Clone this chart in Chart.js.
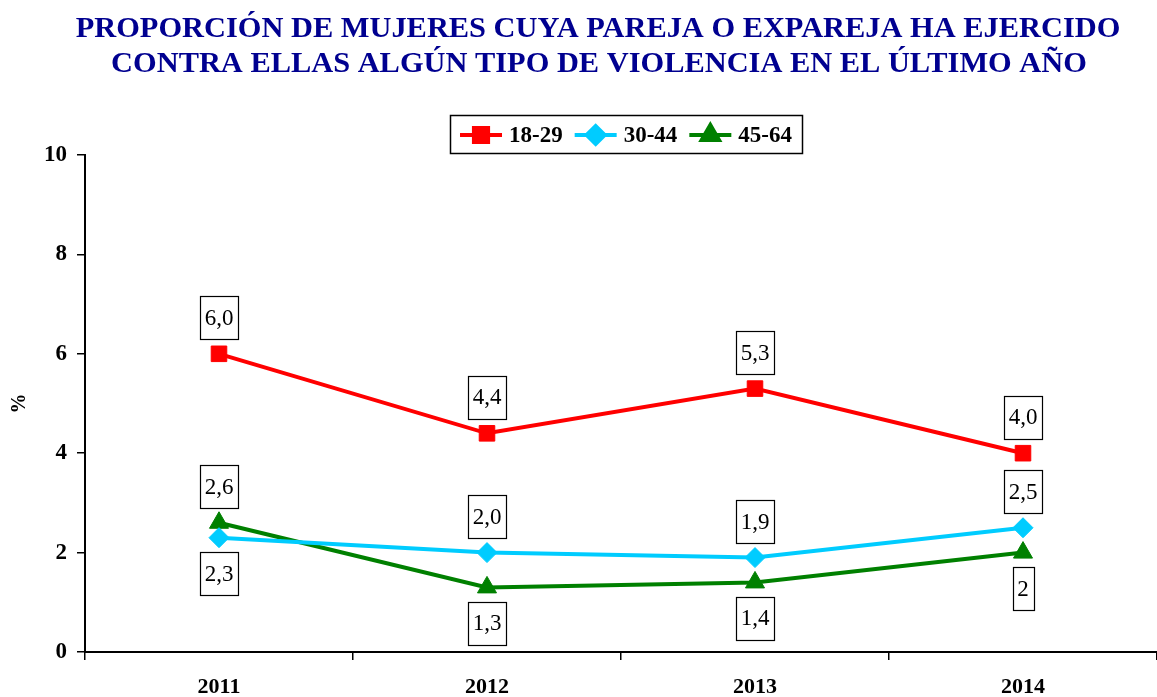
<!DOCTYPE html>
<html>
<head>
<meta charset="utf-8">
<script src="https://cdn.jsdelivr.net/npm/chart.js@4.4.0/dist/chart.umd.min.js"></script>
<style>
  body { margin: 0; background: #fff; }
  #wrap { width: 1157px; height: 697px; position: relative; }
</style>
</head>
<body>
<div id="wrap"><canvas id="chart"></canvas></div>
<script>
// Chart data
const years = ["2011", "2012", "2013", "2014"];
const group1829 = [6.0, 4.4, 5.3, 4.0];
const group3044 = [2.3, 2.0, 1.9, 2.5];
const group4564 = [2.6, 1.3, 1.4, 2.0];
const valueLabels4564 = ["2,6", "1,3", "1,4", "2"];
const yTicks = [0, 2, 4, 6, 8, 10];
const titleLines = [
  "PROPORCIÓN DE MUJERES CUYA PAREJA O EXPAREJA HA EJERCIDO",
  "CONTRA ELLAS ALGÚN TIPO DE VIOLENCIA EN EL ÚLTIMO AÑO",
];

// label side for each point: -1 above, 1 below
const labelSide = [
  [-1, -1, -1, -1],
  [1, -1, -1, -1],
  [-1, 1, 1, 1],
];

const serif = "'Liberation Serif', 'Times New Roman', serif";

function fmt(v) {
  return v.toFixed(1).replace(".", ",");
}

// Two-line title, a bit right of centre like the original
const topTitle = {
  id: "topTitle",
  afterDraw(chart) {
    const ctx = chart.ctx;
    ctx.save();
    ctx.font = "bold 30.4px " + serif;
    ctx.fillStyle = "#000090";
    ctx.textAlign = "center";
    ctx.textBaseline = "alphabetic";
    ctx.fillText(titleLines[0], 598, 37);
    ctx.fillText(titleLines[1], 599, 72);
    ctx.restore();
  },
};

// Boxed value labels next to each point
const boxLabels = {
  id: "boxLabels",
  afterDatasetsDraw(chart) {
    const ctx = chart.ctx;
    ctx.save();
    ctx.font = "23px " + serif;
    ctx.textAlign = "center";
    ctx.textBaseline = "middle";
    chart.data.datasets.forEach((ds, di) => {
      const meta = chart.getDatasetMeta(di);
      meta.data.forEach((pt, i) => {
        const text = ds.valueLabels ? ds.valueLabels[i] : fmt(ds.data[i]);
        const w = Math.round(ctx.measureText(text).width + 9);
        const h = 43;
        const cy = pt.y + labelSide[di][i] * 36;
        const bx = Math.round(pt.x - w / 2) + 0.5;
        const by = Math.round(cy - h / 2) + 0.5;
        ctx.fillStyle = "#fff";
        ctx.fillRect(bx, by, w, h);
        ctx.strokeStyle = "#000";
        ctx.lineWidth = 1.2;
        ctx.strokeRect(bx, by, w, h);
        ctx.fillStyle = "#000";
        ctx.fillText(text, pt.x, cy + 1);
      });
    });
    ctx.restore();
  },
};

// Legend with line + marker, boxed, above the plot
const boxLegend = {
  id: "boxLegend",
  afterDraw(chart) {
    const ctx = chart.ctx;
    ctx.save();
    ctx.font = "bold 23px " + serif;
    ctx.textBaseline = "middle";
    const lineLen = 42, gap = 7, itemGap = 12;
    const items = chart.data.datasets.map((ds) => ({
      ds,
      tw: ctx.measureText(ds.label).width,
    }));
    let total = 0;
    items.forEach((it, i) => {
      total += lineLen + gap + it.tw + (i < items.length - 1 ? itemGap : 0);
    });
    const padX = 10;
    const boxW = total + padX * 2;
    const cx = 626;
    const top = 115, h = 38;
    const left = cx - boxW / 2;
    ctx.fillStyle = "#fff";
    ctx.fillRect(left, top, boxW, h);
    ctx.strokeStyle = "#000";
    ctx.lineWidth = 1.5;
    ctx.strokeRect(Math.round(left) + 0.5, top + 0.5, Math.round(boxW), h);
    const y = top + h / 2 + 1;
    let x = left + padX;
    items.forEach((it) => {
      const ds = it.ds;
      ctx.strokeStyle = ds.borderColor;
      ctx.lineWidth = 4;
      ctx.beginPath();
      ctx.moveTo(x, y);
      ctx.lineTo(x + lineLen, y);
      ctx.stroke();
      ctx.fillStyle = ds.pointBackgroundColor;
      ctx.strokeStyle = ds.pointBackgroundColor;
      Chart.helpers.drawPoint(ctx, {
        pointStyle: ds.pointStyle,
        radius: ds.legendRadius,
        borderWidth: 1,
      }, x + lineLen / 2, y);
      ctx.fillStyle = "#000";
      ctx.textAlign = "left";
      ctx.fillText(ds.label, x + lineLen + gap, y + 1);
      x += lineLen + gap + it.tw + itemGap;
    });
    ctx.restore();
  },
};

function series(label, data, color, style, radius, legendRadius, extra) {
  return Object.assign({
    label,
    data,
    borderColor: color,
    backgroundColor: color,
    pointBackgroundColor: color,
    pointBorderColor: color,
    borderWidth: 4,
    pointStyle: style,
    pointRadius: radius,
    legendRadius,
    pointBorderWidth: 1,
    tension: 0,
    clip: false,
  }, extra || {});
}

const ctx = document.getElementById("chart").getContext("2d");
new Chart(ctx, {
  type: "line",
  data: {
    labels: years,
    datasets: [
      series("18-29", group1829, "#ff0000", "rect", 11, 10),
      series("30-44", group3044, "#00ccff", "rectRot", 10, 9),
      series("45-64", group4564, "#008000", "triangle", 11, 10, { valueLabels: valueLabels4564 }),
    ],
  },
  options: {
    responsive: true,
    maintainAspectRatio: false,
    animation: false,
    layout: {
      autoPadding: false,
      padding: { left: 0, right: 0, top: 155, bottom: 0 },
    },
    plugins: {
      legend: { display: false },
      tooltip: { enabled: false },
      title: { display: false },
    },
    scales: {
      x: {
        type: "category",
        offset: true,
        grid: {
          offset: true,
          drawOnChartArea: false,
          drawTicks: true,
          tickLength: 8,
          color: "#000",
          lineWidth: 1.5,
        },
        border: { display: true, color: "#000", width: 2 },
        ticks: {
          color: "#000",
          font: { family: serif, size: 22, weight: "bold" },
          padding: 14,
          maxRotation: 0,
        },
        afterFit(scale) {
          scale.height = 45;
          scale.paddingLeft = 0;
          scale.paddingRight = 0;
        },
      },
      y: {
        min: 0,
        max: 10,
        afterBuildTicks(scale) {
          scale.ticks = yTicks.map((v) => ({ value: v }));
        },
        grid: {
          drawOnChartArea: false,
          drawTicks: true,
          tickLength: 8,
          color: "#000",
          lineWidth: 1.5,
        },
        border: { display: true, color: "#000", width: 2 },
        ticks: {
          color: "#000",
          font: { family: serif, size: 23, weight: "bold" },
          padding: 10,
        },
        title: {
          display: true,
          text: "%",
          color: "#000",
          font: { family: serif, size: 20, weight: "bold" },
          padding: { top: 8, bottom: 0 },
        },
        afterFit(scale) {
          scale.width = 85;
        },
      },
    },
  },
  plugins: [boxLabels, boxLegend, topTitle],
});
</script>
</body>
</html>
